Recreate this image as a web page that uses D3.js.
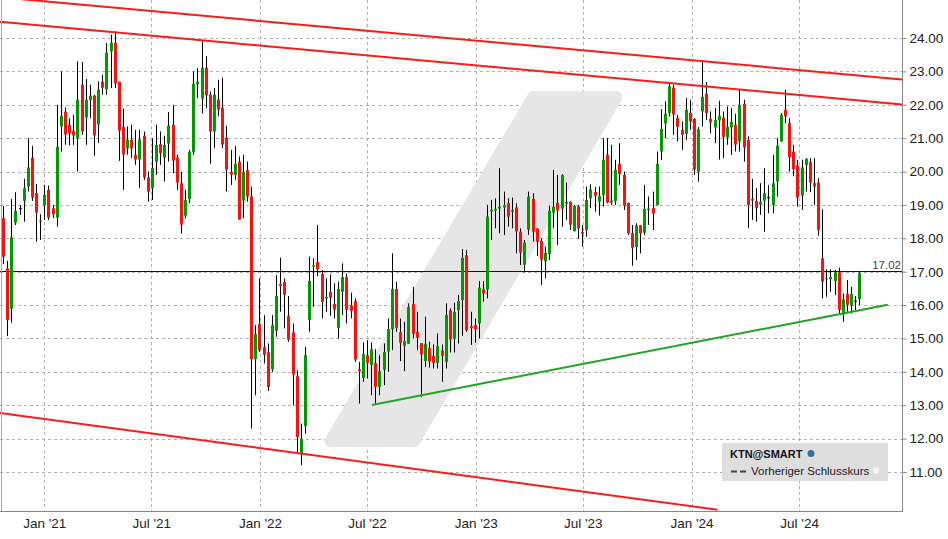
<!DOCTYPE html>
<html><head><meta charset="utf-8">
<script src="https://cdn.jsdelivr.net/npm/d3@7"></script>
<style>body{margin:0;background:#fff}svg{display:block;font-family:"Liberation Sans",Arial,sans-serif}</style>
</head><body><svg id="c" width="948" height="539"></svg>
<script>
const opens=[18.6,17.1,15.89,18.47,18.9,19.12,19.55,20.41,19.36,18.53,18.98,19.45,18.9,18.62,21.35,21.79,21.39,21.22,20.99,22.6,21.62,22.14,22.27,21.41,22.69,22.46,23.6,23.86,22.69,21.34,20.69,20.95,20.5,20.36,21.07,19.82,19.51,20.3,20.82,20.42,20.84,21.4,20.42,19.65,18.68,19.18,20.59,22.61,22.19,23.11,22.3,21.2,22.16,21.91,21.01,19.99,19.9,20.29,19.13,20.04,19.25,14.38,15.43,14.74,14.59,14.08,15.23,16.63,16.69,15.67,15.18,13.87,11.55,12.38,15.55,17.15,17.29,16.93,16.2,16.39,16.03,15.32,16.4,16.84,15.99,16.12,14.08,13.82,14.5,14.21,14.26,13.55,14.06,14.61,15.28,16.48,15.19,14.78,14.84,16.03,15.19,14.86,14.32,14.71,14.47,14.27,14.64,14.3,15.84,14.99,15.85,16.15,17.49,15.37,15.4,15.45,16.48,16.47,18.8,18.83,18.89,18.92,19.06,18.8,18.92,18.2,17.21,18.26,19.18,18.29,17.92,17.31,17.53,18.77,19.06,18.89,19.04,19.1,18.21,18.96,18.19,18.25,19.2,19.39,19.1,19.3,20.5,19.07,19.12,20.23,19.9,19.06,18.15,17.74,18.39,18.17,18.85,18.91,19.0,20.6,21.44,21.75,22.51,21.6,21.25,21.13,21.76,21.58,20.0,21.8,22.33,21.58,21.32,21.53,21.61,21.02,21.32,21.4,20.9,22.03,20.95,19.18,19.12,19.01,19.13,19.22,19.0,19.7,20.9,21.85,21.45,20.59,20.19,19.28,20.2,20.29,19.65,19.67,17.4,16.77,16.78,16.72,16.98,15.72,16.33,15.98,16.13,16.18];
const highs=[18.97,17.33,19.18,19.38,19.0,19.78,21.0,20.77,19.62,18.72,19.6,19.58,19.0,22.0,23.0,21.92,21.6,21.7,23.3,23.28,22.77,22.6,22.3,22.7,22.9,23.85,24.1,24.2,22.69,21.88,21.35,21.4,21.25,21.25,21.2,20.0,21.0,21.4,21.2,21.07,21.78,22.0,20.5,19.99,19.45,20.65,23.0,23.1,23.9,23.45,22.4,22.5,22.75,22.81,21.37,20.65,20.77,20.45,20.5,20.3,19.55,15.4,16.8,15.7,14.85,15.7,16.9,17.42,16.8,16.27,15.45,14.05,12.45,14.75,17.45,17.4,18.4,17.05,16.8,16.92,16.65,16.7,17.25,16.95,16.37,16.2,14.3,14.88,14.95,14.88,14.68,14.5,14.85,15.6,17.55,16.7,15.6,15.5,16.05,16.54,15.8,14.86,15.65,14.9,14.82,15.15,14.82,16.05,15.9,16.07,16.3,17.68,17.65,15.8,15.6,16.72,16.72,19.0,19.15,19.2,20.1,19.4,19.2,19.22,19.05,18.3,17.95,19.4,19.35,18.3,18.0,17.75,18.98,20.05,19.9,19.92,19.67,19.1,19.0,19.0,18.4,19.55,19.62,19.54,19.55,21.0,21.0,20.8,20.35,20.85,20.0,19.07,18.4,18.45,18.4,19.6,19.25,19.4,20.6,21.87,22.1,22.65,22.6,21.7,21.5,22.2,22.15,21.6,21.33,23.3,22.68,21.8,21.9,22.12,21.8,21.95,21.9,21.73,22.45,22.15,21.05,19.78,19.5,19.65,20.1,19.6,20.5,21.0,21.75,22.45,21.6,20.8,20.35,20.35,20.4,20.4,20.4,19.8,18.87,17.07,17.07,17.05,17.12,16.35,16.75,16.55,16.27,17.0];
const lows=[17.23,15.07,15.47,18.4,18.7,18.5,19.4,19.12,17.9,17.95,18.55,18.55,18.6,18.35,20.6,20.8,20.78,20.8,20.0,21.1,20.8,21.6,20.47,20.85,22.3,22.3,22.5,22.5,20.32,19.45,20.5,20.4,20.2,19.5,19.75,19.1,19.15,19.9,20.2,19.7,20.3,19.95,19.45,18.14,18.6,19.05,20.5,22.2,21.74,21.9,20.23,20.7,21.65,20.7,19.4,19.6,19.75,18.56,18.6,19.1,12.3,13.3,14.6,14.25,13.43,14.0,15.05,15.8,15.3,14.9,13.0,11.6,11.2,12.15,15.2,15.95,16.87,15.6,15.8,15.68,15.6,15.0,15.7,15.45,15.6,14.3,13.05,13.7,13.8,13.3,13.05,13.3,13.6,14.0,14.65,15.2,14.32,14.02,14.84,15.0,14.65,13.25,14.15,14.13,14.1,14.1,13.7,14.1,14.58,14.58,14.85,15.08,15.2,14.81,14.87,15.0,16.1,16.2,17.95,18.3,18.15,18.1,18.35,18.3,17.55,17.2,16.98,18.1,17.9,17.47,16.6,16.8,17.35,18.3,17.8,18.35,18.55,18.25,18.21,17.98,17.75,18.05,18.9,18.8,18.68,18.95,19.05,19.0,19.0,19.6,18.85,18.1,17.18,17.35,17.55,18.1,18.4,18.25,18.98,20.35,21.0,21.65,21.1,20.9,20.65,20.95,21.25,19.9,19.7,21.35,21.55,21.14,20.85,20.36,20.4,20.8,20.5,20.6,20.6,20.3,18.3,18.55,18.5,18.7,18.2,18.75,18.75,19.25,20.9,21.45,20.0,19.86,18.95,18.85,19.4,19.38,19.0,18.08,16.2,16.25,16.4,16.3,15.75,15.5,15.8,15.75,15.85,16.0];
const closes=[17.45,15.55,18.03,18.82,18.88,19.5,20.12,19.22,18.77,18.5,19.3,18.62,18.72,20.74,21.67,21.11,21.14,21.08,22.15,21.2,22.15,22.27,21.08,22.45,22.51,23.56,23.86,22.64,21.23,20.51,20.95,20.69,20.36,20.96,19.82,19.4,20.11,20.8,20.55,20.8,21.37,20.33,19.67,18.41,19.15,20.59,22.63,22.69,23.11,22.28,21.2,22.3,21.86,20.81,20.06,19.91,20.23,18.56,19.99,19.25,14.38,15.13,14.65,14.51,13.55,15.4,16.27,16.57,16.31,14.96,13.92,12.05,12.0,14.5,16.72,17.19,17.08,16.1,16.24,16.22,15.86,16.48,16.84,15.86,15.83,14.37,14.02,14.53,14.27,14.67,13.55,14.02,14.59,15.28,16.48,15.32,14.87,14.92,15.94,15.14,15.02,14.52,14.84,14.31,14.27,14.77,14.48,15.7,14.97,15.79,16.12,17.41,15.25,15.31,15.28,16.52,16.34,18.65,18.85,18.88,18.95,18.99,18.65,18.85,18.21,17.57,17.87,19.25,18.2,17.9,17.36,17.56,18.82,18.94,18.83,19.89,19.09,18.41,18.97,18.3,18.14,19.15,19.46,19.27,19.27,20.35,19.07,19.13,20.05,19.93,18.98,18.15,17.72,18.39,18.15,18.88,18.89,18.74,20.23,21.28,21.73,22.55,21.71,21.34,21.1,21.85,21.5,20.06,21.26,22.24,21.75,21.47,21.55,21.67,21.04,21.34,21.49,20.81,22.0,20.72,19.0,19.13,18.9,19.09,19.35,19.23,19.65,20.77,21.7,21.65,20.43,20.07,19.22,20.12,20.38,19.67,19.55,18.25,16.7,16.8,16.84,16.98,15.85,16.17,16.01,16.33,16.12,16.95];
const firstDate="2020-10-23"; // weekly candles
const yTicks=[11,12,13,14,15,16,17,18,19,20,21,22,23,24];
const xTickLabels=["Jan '21","Jul '21","Jan '22","Jul '22","Jan '23","Jul '23","Jan '24","Jul '24"];
const xTickDates=["2021-01-01","2021-07-01","2022-01-01","2022-07-01","2023-01-01","2023-07-01","2024-01-01","2024-07-01"];
const lastClose=17.02;
const redLines=[[["2020-10-18",25.22],["2024-12-22",22.76]],[["2020-10-18",24.49],["2024-12-22",22.01]],[["2020-10-18",12.77],["2024-02-14",9.87]]];
const greenLine=[["2022-07-09",13.01],["2024-11-28",16.01]];
const band=[["2022-04-30",11.93],["2022-09-19",11.93],["2023-08-27",22.23],["2023-04-08",22.23]];

const P=d3.timeParse("%Y-%m-%d");
const W=902,H=511;
const x=d3.scaleTime().domain([P("2020-10-18"),P("2024-12-22")]).range([0,W]);
const y=d3.scaleLinear().domain([9.832,25.138]).range([H,0]);
const svg=d3.select("#c");
svg.append("defs").append("clipPath").attr("id","pc").append("rect").attr("x",0).attr("y",0).attr("width",W).attr("height",H);
const g=svg.append("g");
const pc=g.append("g").attr("clip-path","url(#pc)");
pc.selectAll(".hg").data(yTicks).join("line").attr("x1",0).attr("x2",W).attr("y1",d=>Math.round(y(d))+.5).attr("y2",d=>Math.round(y(d))+.5).attr("stroke","#b0b0b0").attr("stroke-dasharray","3,3");
pc.selectAll(".vg").data(xTickDates).join("line").attr("y1",0).attr("y2",H).attr("x1",d=>Math.round(x(P(d)))+.5).attr("x2",d=>Math.round(x(P(d)))+.5).attr("stroke","#b0b0b0").attr("stroke-dasharray","3,3");
pc.append("path").attr("d",d3.line().x(d=>x(P(d[0]))).y(d=>y(d[1]))(band)+"Z").attr("fill","#e6e6e6").attr("stroke","#e6e6e6").attr("stroke-width",12).attr("stroke-linejoin","round");
const lcY=Math.round(y(lastClose))+.5;
pc.append("line").attr("x1",0).attr("x2",W).attr("y1",lcY).attr("y2",lcY).attr("stroke","#111").attr("stroke-width",1);
const base=P(firstDate);
const idx=d3.range(closes.length);
const cx=i=>Math.round(x(d3.timeDay.offset(base,7*i)));
const cg=pc.append("g");
cg.selectAll(".w").data(idx).join("line").attr("x1",i=>cx(i)+.5).attr("x2",i=>cx(i)+.5).attr("y1",i=>y(highs[i])).attr("y2",i=>y(lows[i])).attr("stroke","#000").attr("stroke-width",1);
cg.selectAll(".b").data(idx).join("rect").attr("x",i=>cx(i)-1).attr("width",3)
 .attr("y",i=>y(Math.max(opens[i],closes[i]))).attr("height",i=>Math.max(1,Math.abs(y(opens[i])-y(closes[i]))))
 .attr("fill",i=>Math.abs(opens[i]-closes[i])<0.03?"#000":(closes[i]>=opens[i]?"#009a00":"#ff1010"));
const ln=d3.line().x(d=>x(P(d[0]))).y(d=>y(d[1]));
pc.selectAll(".rl").data(redLines).join("path").attr("d",ln).attr("stroke","#ff1a1a").attr("stroke-width",2).attr("fill","none");
pc.append("path").attr("d",ln(greenLine)).attr("stroke","#1fa51f").attr("stroke-width",2).attr("fill","none");
g.append("line").attr("x1",1.5).attr("x2",1.5).attr("y1",0).attr("y2",H).attr("stroke","#aaa");
g.append("line").attr("x1",0).attr("x2",W).attr("y1",H+.5).attr("y2",H+.5).attr("stroke","#888");
g.append("line").attr("x1",W+.5).attr("x2",W+.5).attr("y1",0).attr("y2",H+1).attr("stroke","#888");
const ya=d3.axisRight(y).tickValues(yTicks).tickFormat(d3.format(".2f")).tickSize(4).tickPadding(3);
const yg=g.append("g").attr("transform",`translate(${W+.5},0)`).call(ya);
yg.select(".domain").remove();
yg.selectAll("line").attr("stroke","#888");
yg.selectAll("text").attr("font-size",13.5).attr("fill","#222").attr("font-family","Liberation Sans, Arial, sans-serif");
const xa=d3.axisBottom(x).tickValues(xTickDates.map(P)).tickFormat((d,i)=>xTickLabels[i]).tickSize(0).tickPadding(7);
const xg=g.append("g").attr("transform",`translate(0,${H})`).call(xa);
xg.select(".domain").remove();
xg.selectAll("text").attr("font-size",13.5).attr("fill","#222").attr("font-family","Liberation Sans, Arial, sans-serif");
g.append("text").attr("x",W-1).attr("y",lcY-3).attr("text-anchor","end").attr("font-size",11.5).attr("fill","#444").text(lastClose.toFixed(2));
const lg=g.append("g");
lg.append("rect").attr("x",722).attr("y",443).attr("width",166).attr("height",38).attr("fill","#dedede");
lg.append("text").attr("x",730).attr("y",458).attr("font-size",11).attr("font-weight","bold").attr("fill","#111").text("KTN@SMART");
lg.append("circle").attr("cx",811).attr("cy",453.5).attr("r",3.5).attr("fill","#3a6f9c");
lg.append("line").attr("x1",731).attr("x2",748).attr("y1",471.5).attr("y2",471.5).attr("stroke","#444").attr("stroke-width",2).attr("stroke-dasharray","6,3");
lg.append("text").attr("x",751).attr("y",475).attr("font-size",11.5).attr("fill","#222").text("Vorheriger Schlusskurs");
lg.append("rect").attr("x",873).attr("y",467).attr("width",6).attr("height",7).attr("fill","#f4f4fc").attr("stroke","#ddd");
</script></body></html>
